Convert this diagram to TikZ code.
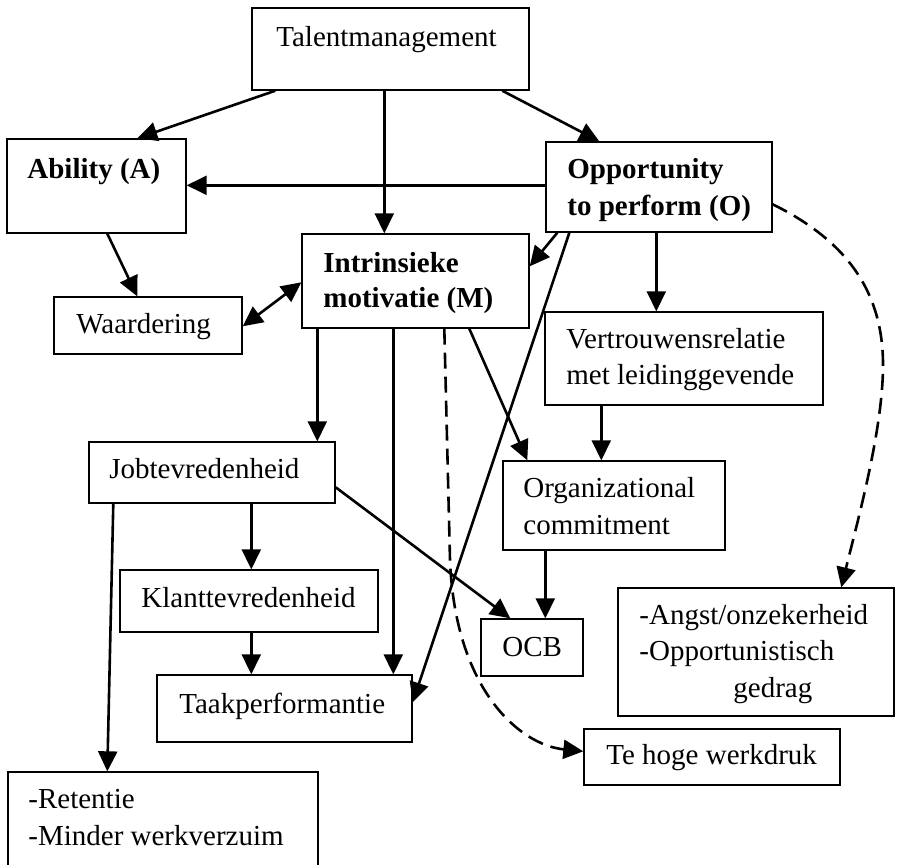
\documentclass[tikz,border=0pt]{standalone}
\usepackage{fontspec}
\setmainfont{Liberation Serif}
\usetikzlibrary{arrows.meta,fit,calc}
\begin{document}
\begin{tikzpicture}[x=0.5pt,y=-0.5pt,
  box/.style={draw, line width=0.7pt, inner sep=0pt},
  txt/.style={anchor=base west, inner sep=0pt, font=\fontsize{14.5}{17.5}\selectfont},
  btxt/.style={anchor=base west, inner sep=0pt, font=\fontsize{14.5}{17.5}\selectfont\bfseries},
  arr/.style={line width=1.3pt, -{Triangle[length=10pt,width=9.5pt]}},
  arrboth/.style={line width=1.3pt, {Triangle[length=10pt,width=9.5pt]}-{Triangle[length=10pt,width=9.5pt]}},
  darr/.style={arr, dash pattern=on 8pt off 4pt},
]
\useasboundingbox (0,0) rectangle (897,864);
\clip (0,0) rectangle (897,864);

% boxes
\node[box, fit={(252,8) (529,90)}] (talent) {};
\node[box, fit={(7,139) (186,233)}] (abil) {};
\node[box, fit={(546,142) (772,232)}] (opp) {};
\node[box, fit={(302,234) (529,328)}] (intr) {};
\node[box, fit={(54,297) (242,354)}] (waard) {};
\node[box, fit={(89,442) (335,503)}] (job) {};
\node[box, fit={(545,312) (823,405)}] (vert) {};
\node[box, fit={(503,461) (725,550)}] (org) {};
\node[box, fit={(120,570) (378,632)}] (klant) {};
\node[box, fit={(157,675) (412,742)}] (taak) {};
\node[box, fit={(8,772) (318,880)}] (ret) {};
\node[box, fit={(481,619) (583,676)}] (ocb) {};
\node[box, fit={(618,588) (894,716)}] (angst) {};
\node[box, fit={(584,729) (840,785)}] (werk) {};

% texts
\node[txt] (tTalent) at (276,46) {Talentmanagement};
\node[btxt] (tAbil) at (27,178) {Ability (A)};
\node[btxt] (tOpp1) at (567,178) {Opportunity};
\node[btxt] (tOpp2) at (567,215) {to perform (O)};
\node[btxt] (tIntr1) at (323,272) {Intrinsieke};
\node[btxt] (tIntr2) at (323,307) {motivatie (M)};
\node[txt] (tWaard) at (76,333) {Waardering};
\node[txt] (tJob) at (109,478) {Jobtevredenheid};
\node[txt] (tVert1) at (566,348) {Vertrouwensrelatie};
\node[txt] (tVert2) at (566,384) {met leidinggevende};
\node[txt] (tOrg1) at (523,497) {Organizational};
\node[txt] (tOrg2) at (523,534) {commitment};
\node[txt] (tKlant) at (141,607) {Klanttevredenheid};
\node[txt] (tTaak) at (179,713) {Taakperformantie};
\node[txt] (tRet1) at (28,808) {-Retentie};
\node[txt] (tRet2) at (28,845) {-Minder werkverzuim};
\node[txt] (tOcb) at (502,656) {OCB};
\node[txt] (tAngst1) at (639,624) {-Angst/onzekerheid};
\node[txt] (tAngst2) at (639,660) {-Opportunistisch};
\node[txt] (tAngst3) at (733,697) {gedrag};
\node[txt] (tWerk) at (606,764) {Te hoge werkdruk};

% connectors
\draw[arr] ($(talent.south west)+(24,0)$) -- ($(abil.north west)+(131,0)$);
\draw[arr] ($(talent.south west)+(133,0)$) -- ($(intr.north west)+(83,0)$);
\draw[arr] ($(talent.south west)+(251,0)$) -- ($(opp.north west)+(54,0)$);
\draw[arr] ($(opp.north west)+(0,44)$) -- ($(abil.north east)+(0,47)$);
\draw[arr] ($(abil.south west)+(101,0)$) -- ($(waard.north west)+(84,0)$);
\draw[arrboth] ($(waard.north east)+(0,30)$) -- ($(intr.north west)+(0,49)$);
\draw[arr] ($(opp.south west)+(12,0)$) -- ($(intr.north east)+(0,33)$);
\draw[arr] ($(opp.south west)+(24,0)$) -- ($(taak.north east)+(0,28)$);
\draw[arr] ($(opp.south west)+(111,0)$) -- ($(vert.north west)+(112,0)$);
\draw[darr] ($(opp.north east)+(0,63)$) .. controls (845,240) and (883,290) .. (883,365)
   .. controls (883,430) and (857,523) .. ($(angst.north west)+(224,0)$);
\draw[arr] ($(intr.south west)+(16,0)$) -- ($(job.north west)+(229,0)$);
\draw[arr] ($(intr.south west)+(92,0)$) -- ($(taak.north west)+(237,0)$);
\draw[darr] ($(intr.south west)+(143,0)$) -- (450,560)
   .. controls (455,690) and (520,745) .. ($(werk.north west)+(0,23)$);
\draw[arr] ($(intr.south west)+(168,0)$) -- ($(org.north west)+(25,0)$);
\draw[arr] ($(vert.south west)+(57,0)$) -- ($(org.north west)+(99,0)$);
\draw[arr] ($(org.south west)+(43,0)$) -- ($(ocb.north west)+(65,0)$);
\draw[arr] ($(job.north east)+(0,46)$) -- ($(ocb.north west)+(30,0)$);
\draw[arr] ($(job.south west)+(163,0)$) -- ($(klant.north west)+(132,0)$);
\draw[arr] ($(job.south west)+(25,0)$) -- ($(ret.north west)+(100,0)$);
\draw[arr] ($(klant.south west)+(132,0)$) -- ($(taak.north west)+(95,0)$);
\end{tikzpicture}
\end{document}
